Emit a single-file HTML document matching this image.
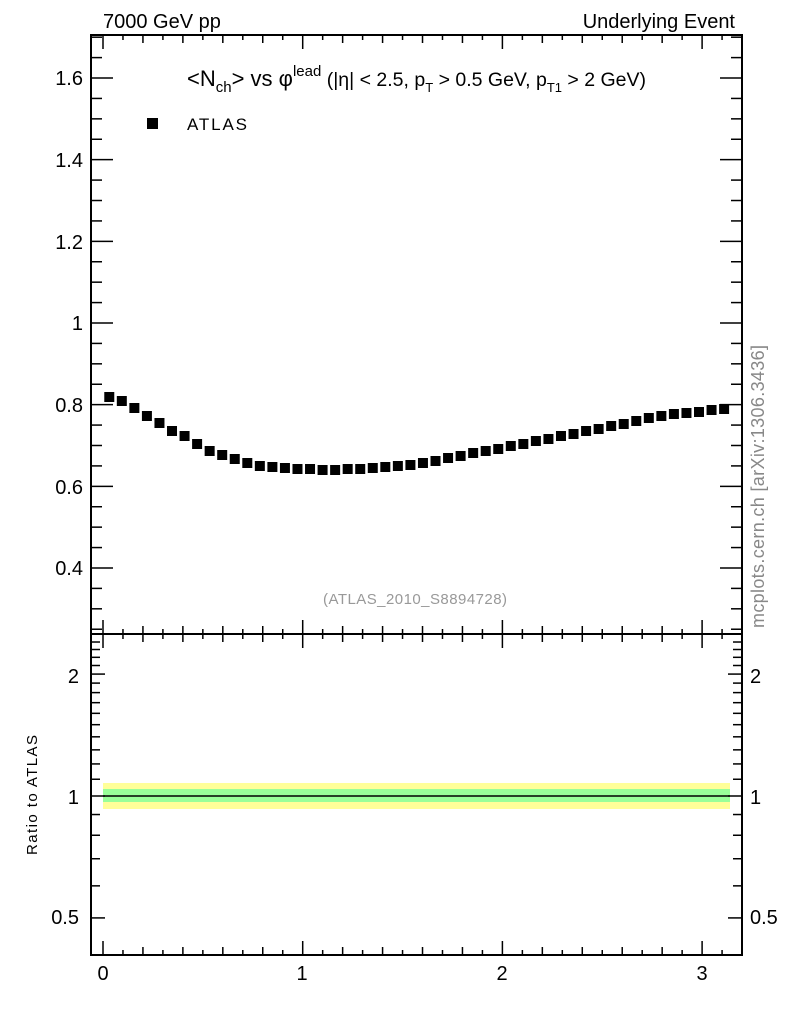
<!DOCTYPE html>
<html><head><meta charset="utf-8"><style>
body{margin:0;background:#fff;}
svg{display:block;font-family:"Liberation Sans",Arial,sans-serif;}
</style></head><body>
<svg id="s" width="786" height="1024" xmlns="http://www.w3.org/2000/svg">
<rect x="103" y="783" width="627" height="26" fill="#ffff99"/>
<rect x="103" y="789" width="627" height="13" fill="#99ff99"/>
<line x1="103" y1="796" x2="730" y2="796" stroke="#000" stroke-width="1.5"/>
<g id="ticks" stroke="#000" stroke-width="1.5"></g>
<g id="pts" fill="#000"></g>
<rect x="91" y="35" width="651" height="599" fill="none" stroke="#000" stroke-width="2"/>
<rect x="91" y="634" width="651" height="321" fill="none" stroke="#000" stroke-width="2"/>
<g font-size="20" fill="#000">
<text x="103" y="28">7000 GeV pp</text>
<text x="735" y="28" text-anchor="end">Underlying Event</text>
<text x="83" y="85" text-anchor="end">1.6</text>
<text x="83" y="167" text-anchor="end">1.4</text>
<text x="83" y="249" text-anchor="end">1.2</text>
<text x="83" y="330" text-anchor="end">1</text>
<text x="83" y="412" text-anchor="end">0.8</text>
<text x="83" y="494" text-anchor="end">0.6</text>
<text x="83" y="575" text-anchor="end">0.4</text>
<text x="79" y="683" text-anchor="end">2</text>
<text x="79" y="804" text-anchor="end">1</text>
<text x="79" y="924" text-anchor="end">0.5</text>
<text x="750" y="683">2</text>
<text x="750" y="804">1</text>
<text x="750" y="924">0.5</text>
<text x="103" y="980" text-anchor="middle">0</text>
<text x="302" y="980" text-anchor="middle">1</text>
<text x="502" y="980" text-anchor="middle">2</text>
<text x="702" y="980" text-anchor="middle">3</text>
</g>
<text x="187" y="86" font-size="22">&lt;N<tspan font-size="15" dy="6">ch</tspan><tspan dy="-6">&gt; vs φ</tspan><tspan font-size="15" dy="-10">lead</tspan><tspan font-size="19.5" dy="10"> (|η| &lt; 2.5, p</tspan><tspan font-size="13" dy="6">T</tspan><tspan font-size="19.5" dy="-6"> &gt; 0.5 GeV, p</tspan><tspan font-size="13" dy="6">T1</tspan><tspan font-size="19.5" dy="-6"> &gt; 2 GeV)</tspan></text>
<rect x="147" y="118" width="11" height="11" fill="#000"/>
<text x="187" y="130" font-size="17" textLength="60">ATLAS</text>
<text x="323" y="604" font-size="15" fill="#999" textLength="184">(ATLAS_2010_S8894728)</text>
<text transform="translate(764,628) rotate(-90)" font-size="18" fill="#888" textLength="283">mcplots.cern.ch [arXiv:1306.3436]</text>
<text transform="translate(37,855) rotate(-90)" font-size="15" textLength="120">Ratio to ATLAS</text>
</svg>
<script>
var ns="http://www.w3.org/2000/svg";
var T=document.getElementById("ticks"),P=document.getElementById("pts");
function L(x1,y1,x2,y2){var l=document.createElementNS(ns,"line");l.setAttribute("x1",x1);l.setAttribute("y1",y1);l.setAttribute("x2",x2);l.setAttribute("y2",y2);T.appendChild(l);}
for(var i=0;i<=32;i++){var x=103+i*19.97;var len=(i%10==0)?14:((i%2==0)?8:5);
L(x,634,x,634-len);L(x,955,x,955-len);L(x,35,x,35+len);L(x,634,x,634+len);}
for(var v=0.25;v<=1.70001;v+=0.05){var y=731.3-v*408.3;var maj=Math.abs((v*100)%20)<0.1||Math.abs((v*100)%20-20)<0.1;var len=maj?22:11;L(91,y,91+len,y);L(742,y,742-len,y);}
var vals=[0.5,0.6,0.7,0.8,0.9,1,1.1,1.2,1.3,1.4,1.5,1.6,1.7,1.8,1.9,2,2.1,2.2,2.3,2.4,2.5];
vals.forEach(function(v){var y=796-Math.log10(v)*405;if(y<636)return;var maj=(v==1||v==2||v==0.5);var len=maj?14:9;L(91,y,91+len,y);L(742,y,742-len,y);});
var ys=[397,401,408,416,423,431,436,444,451,455,459,463,466,467,468,469,469,470,470,469,469,468,467,466,465,463,461,458,456,453,451,449,446,444,441,439,436,434,431,429,426,424,421,418,416,414,413,412,410,409];
for(var i=0;i<50;i++){var x=103+(i+0.5)*Math.PI/50*199.7;var r=document.createElementNS(ns,"rect");r.setAttribute("x",x-5);r.setAttribute("y",ys[i]-5);r.setAttribute("width",10);r.setAttribute("height",10);P.appendChild(r);}
</script>
</body></html>
